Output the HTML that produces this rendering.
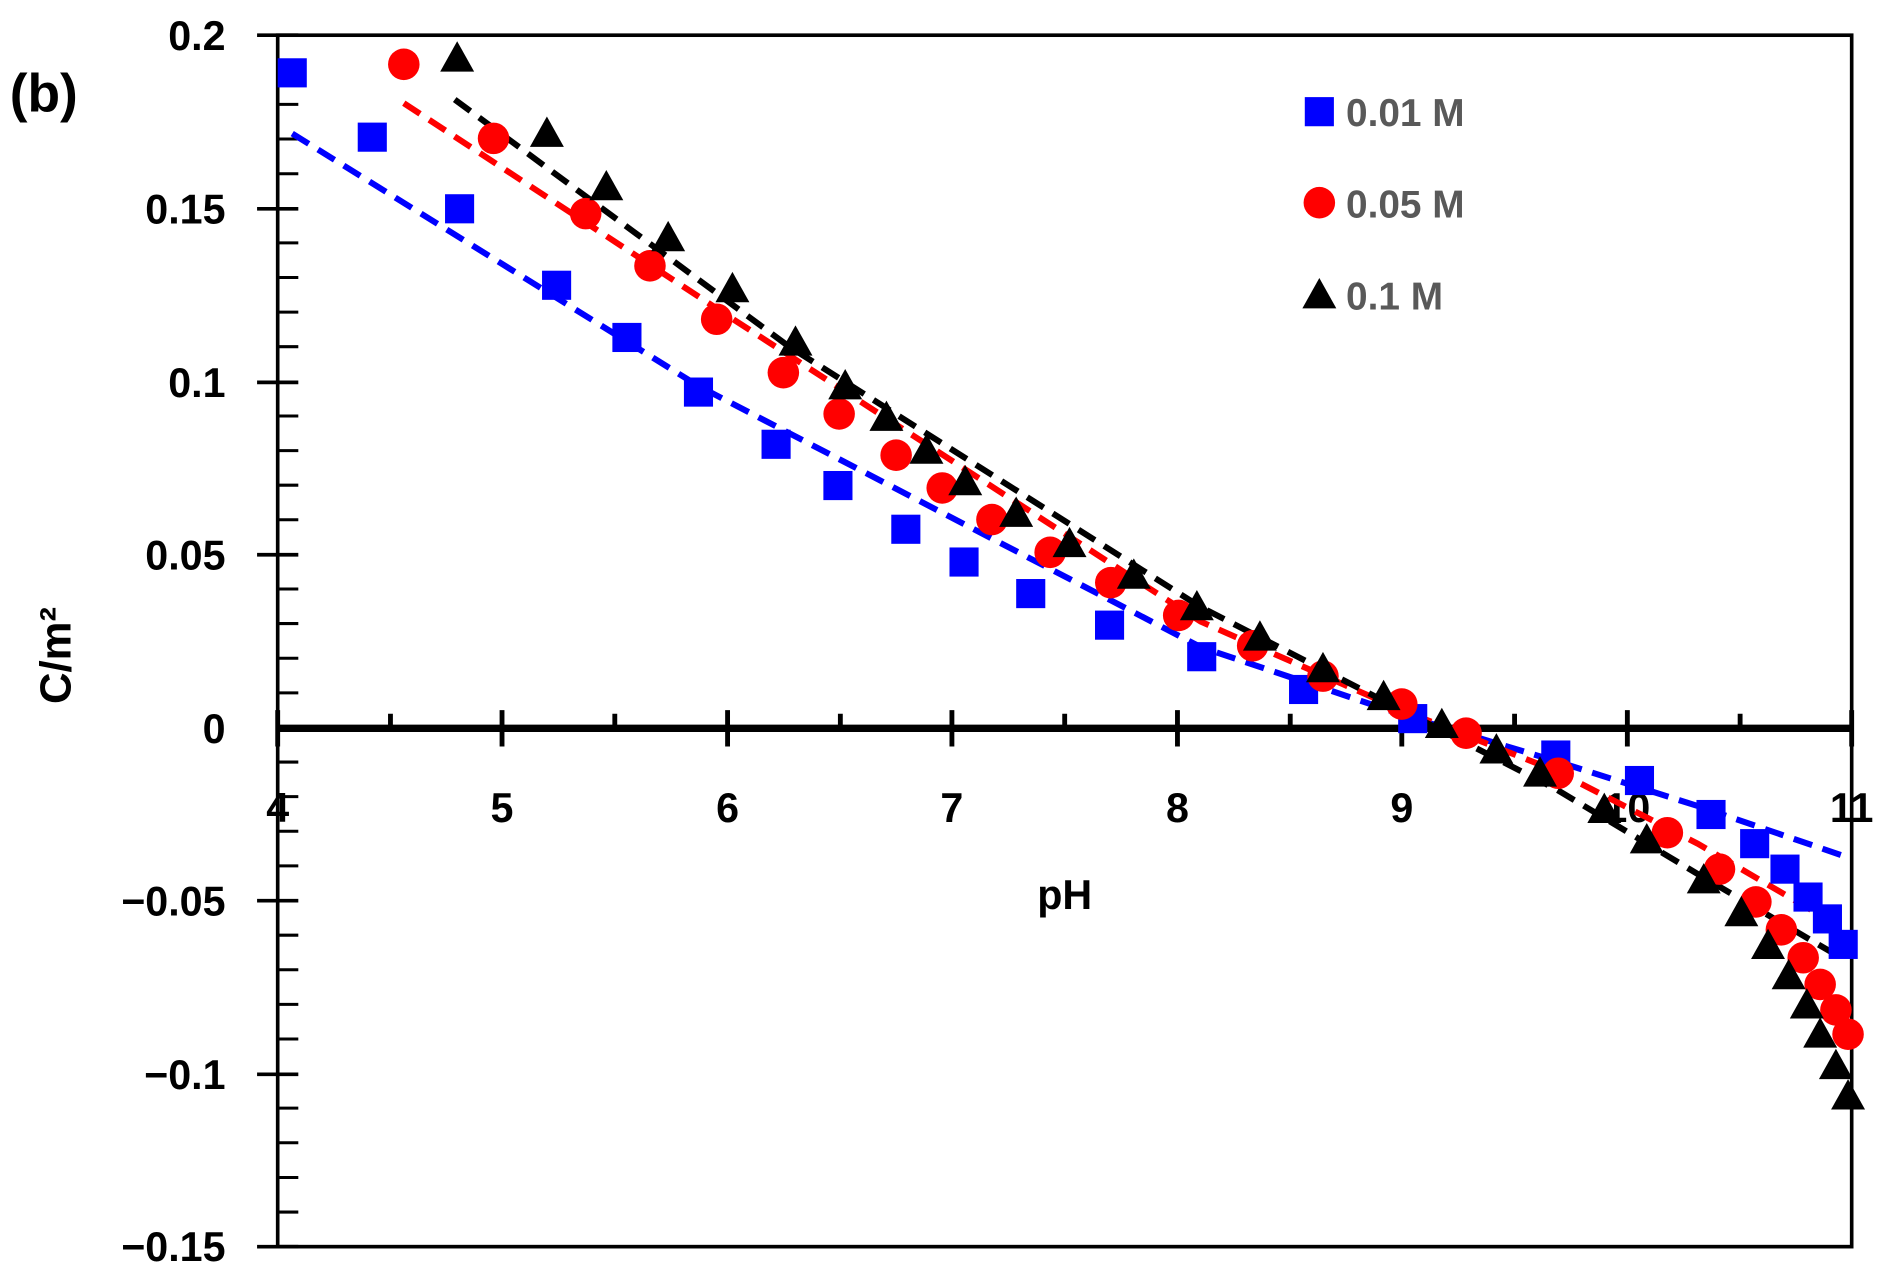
<!DOCTYPE html>
<html><head><meta charset="utf-8"><style>html,body{margin:0;padding:0;background:#fff}svg{display:block}</style></head>
<body>
<svg width="1882" height="1277" viewBox="0 0 1552 1052" preserveAspectRatio="none" xmlns="http://www.w3.org/2000/svg" xmlns:xlink="http://www.w3.org/1999/xlink" font-family="Liberation Sans, sans-serif" font-weight="bold">
<defs>
<rect id="sq" x="-12" y="-12" width="24" height="24" fill="#0000ff"/>
<circle id="ci" r="13" fill="#ff0000"/>
<polygon id="tr" points="-14,11 14,11 0,-14" fill="#000"/>
</defs>
<rect width="1552" height="1052" fill="#fff"/>
<rect x="229" y="29" width="1298" height="998" fill="none" stroke="#000" stroke-width="3"/>
<line x1="229" y1="600" x2="1527" y2="600" stroke="#000" stroke-width="6"/>
<path stroke="#000" stroke-width="4" d="M229 585V615M414 585V615M600 585V615M785 585V615M971 585V615M1156 585V615M1342 585V615M1527 585V615M322 588V600M507 588V600M693 588V600M878 588V600M1064 588V600M1249 588V600M1435 588V600"/>
<path stroke="#000" stroke-width="3" d="M212 29H246M212 172H246M212 315H246M212 457H246M212 742H246M212 885H246M212 1027H246"/>
<path stroke="#000" stroke-width="2.5" d="M229 57.5H246M229 86H246M229 114.5H246M229 143.1H246M229 200.1H246M229 228.6H246M229 257.1H246M229 285.6H246M229 342.7H246M229 371.2H246M229 399.7H246M229 428.2H246M229 485.2H246M229 513.7H246M229 542.3H246M229 570.8H246M229 627.8H246M229 656.3H246M229 684.8H246M229 713.3H246M229 770.4H246M229 798.9H246M229 827.4H246M229 855.9H246M229 912.9H246M229 941.4H246M229 970H246M229 998.5H246"/>
<g font-size="34" text-anchor="end" fill="#000">
<text x="186" y="41">0.2</text><text x="186" y="184">0.15</text><text x="186" y="327">0.1</text><text x="186" y="469">0.05</text><text x="186" y="612">0</text><text x="186" y="754">−0.05</text><text x="186" y="897">−0.1</text><text x="186" y="1039">−0.15</text>
</g>
<g font-size="34" text-anchor="middle" fill="#000">
<text x="229" y="677">4</text><text x="414" y="677">5</text><text x="600" y="677">6</text><text x="785" y="677">7</text><text x="971" y="677">8</text><text x="1156" y="677">9</text><text x="1342" y="677">10</text><text x="1527" y="677">11</text>
<text x="878" y="749">pH</text>
</g>
<text x="58" y="540" font-size="36" text-anchor="middle" transform="rotate(-90 58 540)">C/m²</text>
<text x="8" y="92" font-size="44">(b)</text>
<g fill="none" stroke-width="5" stroke-dasharray="16 9">
<polyline stroke="#0000ff" points="241,110 576,318 990,533 1160,590 1283,627 1400,664 1520,705"/>
<polyline stroke="#ff0000" points="333,85 600,260 990,512 1156,585 1283,635 1400,695 1520,765"/>
<polyline stroke="#000" points="375,82 650,285 990,500 1156,585 1283,650 1400,720 1520,790"/>
</g>
<g>
<use xlink:href="#sq" x="241" y="60"/><use xlink:href="#sq" x="307" y="113"/><use xlink:href="#sq" x="379" y="172"/><use xlink:href="#sq" x="459" y="235"/><use xlink:href="#sq" x="517" y="278"/><use xlink:href="#sq" x="576" y="323"/><use xlink:href="#sq" x="640" y="366"/><use xlink:href="#sq" x="691" y="400"/><use xlink:href="#sq" x="747" y="436"/><use xlink:href="#sq" x="795" y="463"/><use xlink:href="#sq" x="850" y="489"/><use xlink:href="#sq" x="915" y="515"/><use xlink:href="#sq" x="991" y="541"/><use xlink:href="#sq" x="1075" y="568"/><use xlink:href="#sq" x="1165" y="592"/><use xlink:href="#sq" x="1283" y="622"/><use xlink:href="#sq" x="1352" y="643"/><use xlink:href="#sq" x="1411" y="671"/><use xlink:href="#sq" x="1447" y="695"/><use xlink:href="#sq" x="1472" y="716"/><use xlink:href="#sq" x="1491" y="739"/><use xlink:href="#sq" x="1507" y="757"/><use xlink:href="#sq" x="1520" y="778"/>
</g>
<g>
<use xlink:href="#ci" x="333" y="53"/><use xlink:href="#ci" x="407" y="114"/><use xlink:href="#ci" x="483" y="176"/><use xlink:href="#ci" x="536" y="219"/><use xlink:href="#ci" x="591" y="263"/><use xlink:href="#ci" x="646" y="307"/><use xlink:href="#ci" x="692" y="341"/><use xlink:href="#ci" x="739" y="375"/><use xlink:href="#ci" x="777" y="402"/><use xlink:href="#ci" x="818" y="428"/><use xlink:href="#ci" x="866" y="455"/><use xlink:href="#ci" x="916" y="480"/><use xlink:href="#ci" x="972" y="507"/><use xlink:href="#ci" x="1033" y="532"/><use xlink:href="#ci" x="1091" y="557"/><use xlink:href="#ci" x="1156" y="580"/><use xlink:href="#ci" x="1209" y="604"/><use xlink:href="#ci" x="1285" y="637"/><use xlink:href="#ci" x="1375" y="686"/><use xlink:href="#ci" x="1418" y="716"/><use xlink:href="#ci" x="1448" y="743"/><use xlink:href="#ci" x="1469" y="766"/><use xlink:href="#ci" x="1487" y="789"/><use xlink:href="#ci" x="1501" y="811"/><use xlink:href="#ci" x="1514" y="832"/><use xlink:href="#ci" x="1524" y="852"/>
</g>
<g>
<use xlink:href="#tr" x="377" y="48"/><use xlink:href="#tr" x="451" y="110"/><use xlink:href="#tr" x="500" y="154"/><use xlink:href="#tr" x="551" y="196"/><use xlink:href="#tr" x="604" y="238"/><use xlink:href="#tr" x="656" y="282"/><use xlink:href="#tr" x="697" y="318"/><use xlink:href="#tr" x="731" y="344"/><use xlink:href="#tr" x="764" y="371"/><use xlink:href="#tr" x="796" y="397"/><use xlink:href="#tr" x="838" y="423"/><use xlink:href="#tr" x="882" y="448"/><use xlink:href="#tr" x="935" y="474"/><use xlink:href="#tr" x="987" y="500"/><use xlink:href="#tr" x="1039" y="525"/><use xlink:href="#tr" x="1091" y="551"/><use xlink:href="#tr" x="1141" y="574"/><use xlink:href="#tr" x="1189" y="597"/><use xlink:href="#tr" x="1234" y="618"/><use xlink:href="#tr" x="1270" y="637"/><use xlink:href="#tr" x="1323" y="667"/><use xlink:href="#tr" x="1358" y="692"/><use xlink:href="#tr" x="1405" y="725"/><use xlink:href="#tr" x="1436" y="752"/><use xlink:href="#tr" x="1458" y="779"/><use xlink:href="#tr" x="1475" y="804"/><use xlink:href="#tr" x="1490" y="828"/><use xlink:href="#tr" x="1501" y="852"/><use xlink:href="#tr" x="1514" y="878"/><use xlink:href="#tr" x="1524" y="903"/>
</g>
<use xlink:href="#sq" x="1088" y="92"/>
<use xlink:href="#ci" x="1088" y="167"/>
<use xlink:href="#tr" x="1088" y="243"/>
<g font-size="32" fill="#595959">
<text x="1110" y="104">0.01 M</text><text x="1110" y="179">0.05 M</text><text x="1110" y="255">0.1 M</text>
</g>
</svg>
</body></html>
